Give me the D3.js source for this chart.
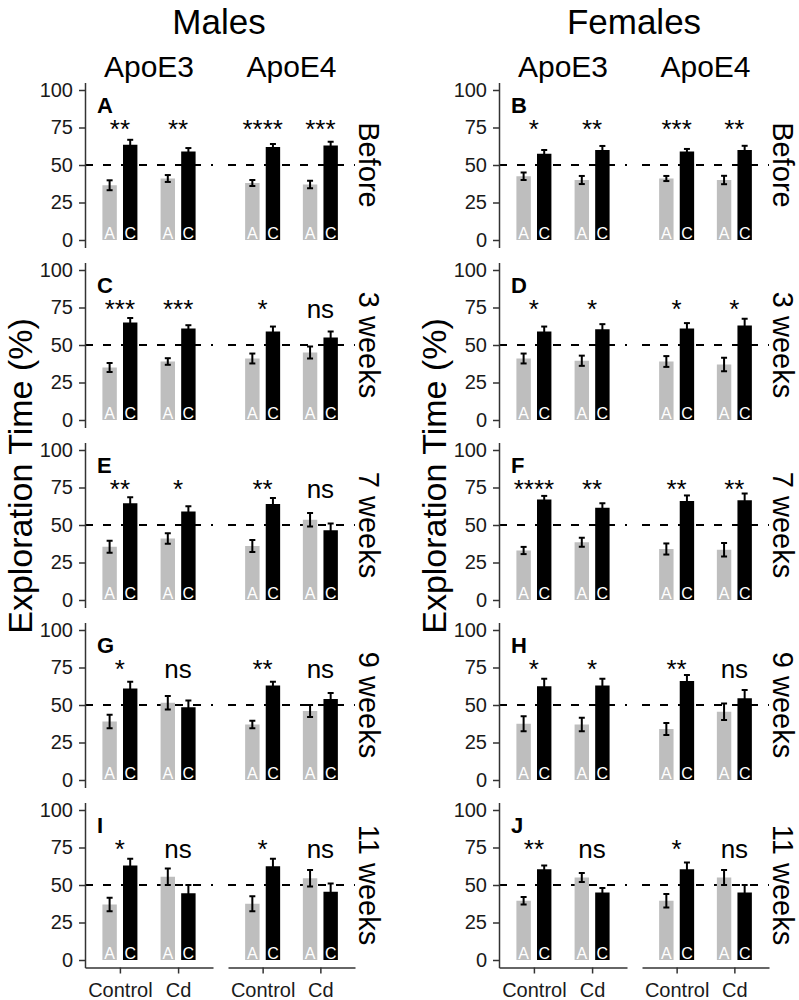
<!DOCTYPE html>
<html>
<head>
<meta charset="utf-8">
<style>
  body { margin: 0; background: #fff; }
  text { font-family: "Liberation Sans", Arial, sans-serif; }
</style>
</head>
<body>
<svg width="799" height="1000"></svg>
<script src="https://d3js.org/d3.v7.min.js"></script>
<script>

var sexes = ["Males", "Females"];
var genotypes = ["ApoE3", "ApoE4"];
var treatments = ["Control", "Cd"];
var objects = ["A", "C"];
var timepoints = ["Before", "3 weeks", "7 weeks", "9 weeks", "11 weeks"];
var panelLetters = [["A", "B"], ["C", "D"], ["E", "F"], ["G", "H"], ["I", "J"]];
var yTicks = [0, 25, 50, 75, 100];

// each row: [ApoE3 Control, ApoE3 Cd, ApoE4 Control, ApoE4 Cd]
var malesA = [
  [36.5, 41, 38, 37],
  [35, 39, 41, 45],
  [35.5, 41, 36, 53.5],
  [39, 51.5, 37, 46],
  [37, 55.5, 37.5, 54.5]
];
var malesC = [
  [63.5, 59, 62, 63],
  [65, 61, 59, 55],
  [64.5, 59, 64, 46.5],
  [61, 48.5, 63, 54],
  [63, 44.5, 62.5, 45.5]
];
var malesSE = [
  [3.3, 2.3, 2, 2.5],
  [3, 2.2, 3.3, 4],
  [4, 3.5, 4, 4.5],
  [4.5, 4.5, 2.5, 4],
  [4.5, 5.5, 5, 5.5]
];
var malesSig = [
  ["**", "**", "****", "***"],
  ["***", "***", "*", "ns"],
  ["**", "*", "**", "ns"],
  ["*", "ns", "**", "ns"],
  ["*", "ns", "*", "ns"]
];

var femalesA = [
  [42.5, 40, 41, 40],
  [41, 39.5, 39, 37],
  [33, 38.5, 34, 33.5],
  [37.5, 37, 34, 45.5],
  [39.5, 55, 39.5, 55]
];
var femalesC = [
  [57.5, 60, 59, 60],
  [59, 60.5, 61, 63],
  [67, 61.5, 66, 66.5],
  [62.5, 63, 66, 54.5],
  [60.5, 45, 60.5, 45]
];
var femalesSE = [
  [2.5, 2.7, 1.7, 2.8],
  [3.3, 3.4, 3.6, 4.5],
  [2.4, 3, 3.7, 4.5],
  [5, 4.5, 4, 5.5],
  [2.5, 3, 4.5, 5]
];
var femalesSig = [
  ["*", "**", "***", "**"],
  ["*", "*", "*", "*"],
  ["****", "**", "**", "**"],
  ["*", "*", "**", "ns"],
  ["**", "ns", "*", "ns"]
];

var series = [
  { A: malesA, C: malesC, se: malesSE, sig: malesSig },
  { A: femalesA, C: femalesC, se: femalesSE, sig: femalesSig }
];

var svg = d3.select("svg");

var colX = [85, 499];          // y axis position of each sex column
var facetX = [[0, 128], [143, 270]];
var rowTop0 = 82.5, rowStep = 180, rowH = 165;
var barFill = { A: "#bebebe", C: "#000" };
var titleX = [219, 634];
var ylabX = [32, 446];
var stripX = [359, 773];

// column titles
sexes.forEach(function(s, si) {
  svg.append("text")
      .attr("x", titleX[si])
      .attr("y", 34)
      .attr("text-anchor", "middle")
      .attr("font-size", 35)
      .text(s);

  svg.append("text")
      .attr("transform", "translate(" + ylabX[si] + ",476) rotate(-90)")
      .attr("text-anchor", "middle")
      .attr("font-size", 34)
      .text("Exploration Time (%)");

  genotypes.forEach(function(g, gi) {
    svg.append("text")
        .attr("x", colX[si] + (facetX[gi][0] + facetX[gi][1]) / 2)
        .attr("y", 77)
        .attr("text-anchor", "middle")
        .attr("font-size", 30)
        .text(g);
  });
});

sexes.forEach(function(s, si) {
  var d = series[si];
  timepoints.forEach(function(tp, ri) {
    var top = rowTop0 + ri * rowStep;
    var y = d3.scaleLinear().domain([-5, 105]).range([top + rowH, top]);

    genotypes.forEach(function(g, gi) {
      var x0 = colX[si] + facetX[gi][0],
          x1 = colX[si] + facetX[gi][1];
      var x = d3.scalePoint().domain(treatments).range([x0, x1]).padding(0.6);
      var xo = d3.scaleBand().domain(objects).range([-17.5, 17.5]).paddingInner(0.3);

      var bars = [];
      treatments.forEach(function(t, ti) {
        var k = gi * 2 + ti;
        objects.forEach(function(o) {
          bars.push({ t: t, o: o, v: d[o][ri][k], se: d.se[ri][k] });
        });
      });

      var pg = svg.append("g");

      // chance line
      pg.append("line")
          .attr("x1", x0).attr("x2", x1)
          .attr("y1", y(50)).attr("y2", y(50))
          .attr("stroke", "#000")
          .attr("stroke-width", 2)
          .attr("stroke-dasharray", "8,10");

      pg.selectAll("rect.bar")
        .data(bars)
        .enter().append("rect")
          .attr("class", "bar")
          .attr("x", function(b) { return x(b.t) + xo(b.o); })
          .attr("width", xo.bandwidth())
          .attr("y", function(b) { return y(b.v); })
          .attr("height", function(b) { return y(0) - y(b.v); })
          .attr("fill", function(b) { return barFill[b.o]; });

      var eb = pg.selectAll("g.err")
        .data(bars)
        .enter().append("g")
          .attr("class", "err")
          .attr("stroke", "#000")
          .attr("stroke-width", 2);
      eb.append("line")
          .attr("x1", function(b) { return x(b.t) + xo(b.o) + xo.bandwidth() / 2; })
          .attr("x2", function(b) { return x(b.t) + xo(b.o) + xo.bandwidth() / 2; })
          .attr("y1", function(b) { return y(b.v - b.se); })
          .attr("y2", function(b) { return y(b.v + b.se); });
      [-1, 1].forEach(function(sg) {
        eb.append("line")
            .attr("x1", function(b) { return x(b.t) + xo(b.o) + xo.bandwidth() / 2 - 3; })
            .attr("x2", function(b) { return x(b.t) + xo(b.o) + xo.bandwidth() / 2 + 3; })
            .attr("y1", function(b) { return y(b.v + sg * b.se); })
            .attr("y2", function(b) { return y(b.v + sg * b.se); });
      });

      // object letters at base of bars
      pg.selectAll("text.obj")
        .data(bars)
        .enter().append("text")
          .attr("class", "obj")
          .attr("x", function(b) { return x(b.t) + xo(b.o) + xo.bandwidth() / 2; })
          .attr("y", y(0) - 1)
          .attr("text-anchor", "middle")
          .attr("font-size", 16)
          .attr("fill", "#fff")
          .text(function(b) { return b.o; });

      // significance
      pg.selectAll("text.sig")
        .data(treatments)
        .enter().append("text")
          .attr("class", "sig")
          .attr("x", function(t) { return x(t); })
          .attr("y", y(68))
          .attr("text-anchor", "middle")
          .attr("font-size", 26)
          .text(function(t, ti) { return d.sig[ri][gi * 2 + ti]; });

      if (ri === timepoints.length - 1) {
        var xa = pg.append("g")
            .attr("transform", "translate(0," + (top + rowH) + ")")
            .call(d3.axisBottom(x).tickSize(6).tickSizeOuter(0).tickPadding(9));
        xa.selectAll("path,line").attr("stroke", "#333").attr("stroke-width", 1.5);
        xa.selectAll("text").attr("font-size", 20).attr("fill", "#1a1a1a")
            .attr("font-family", "Liberation Sans, Arial, sans-serif");
      }
    });

    // y axis
    var ya = svg.append("g")
        .attr("transform", "translate(" + colX[si] + ",0)")
        .call(d3.axisLeft(y).tickValues(yTicks).tickSize(6).tickSizeOuter(0).tickPadding(6));
    ya.selectAll("path,line").attr("stroke", "#333").attr("stroke-width", 1.5);
    ya.selectAll("text").attr("font-size", 20).attr("fill", "#1a1a1a")
        .attr("font-family", "Liberation Sans, Arial, sans-serif");

    // panel letter
    svg.append("text")
        .attr("x", colX[si] + 12)
        .attr("y", top + 30)
        .attr("font-size", 22)
        .attr("font-weight", "bold")
        .text(panelLetters[ri][si]);

    // strip label
    svg.append("text")
        .attr("transform", "translate(" + stripX[si] + "," + (top + rowH / 2) + ") rotate(90)")
        .attr("text-anchor", "middle")
        .attr("font-size", 29)
        .text(tp);
  });
});

</script>
</body>
</html>
